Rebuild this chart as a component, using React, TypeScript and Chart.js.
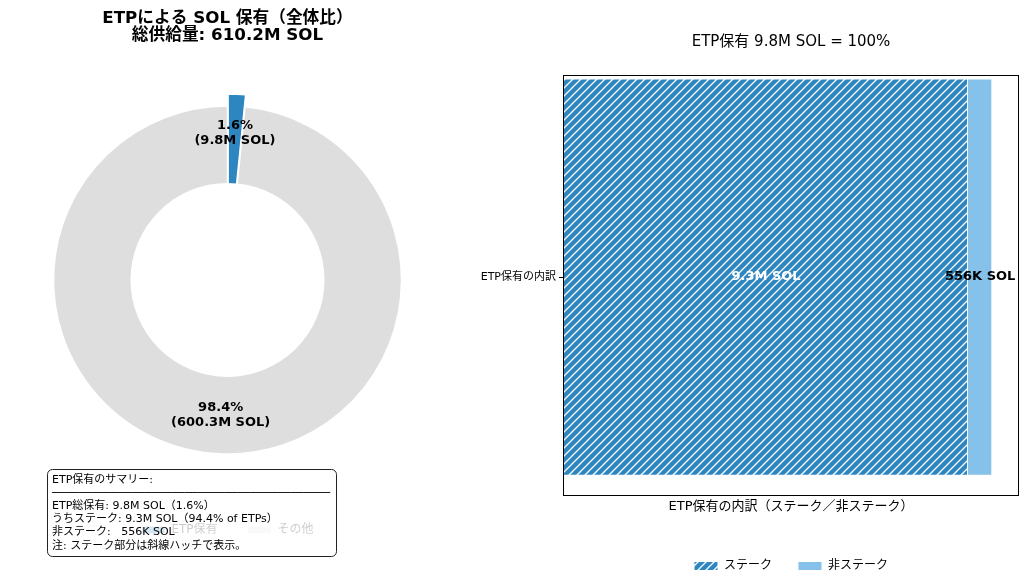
import React, { useEffect, useRef } from 'react';
import { Chart, registerables } from 'chart.js';

Chart.register(...registerables);

const FONT = '"DejaVu Sans", "Noto Sans CJK JP", sans-serif';
Chart.defaults.font.family = FONT;
Chart.defaults.color = '#000';

// ---------- data: left (donut) ----------
const donutTitle = ['ETPによる SOL 保有（全体比）', '総供給量: 610.2M SOL'];
const donutLabels = ['ETP保有', 'その他'];
const donutValues = [9.8, 600.3];
const donutTexts = [
  ['1.6%', '(9.8M SOL)'],
  ['98.4%', '(600.3M SOL)'],
];
const summaryHeader = 'ETP保有のサマリー:';
const summaryLines = [
  'ETP総保有: 9.8M SOL（1.6%）',
  'うちステーク: 9.3M SOL（94.4% of ETPs）',
  '非ステーク:   556K SOL',
  '注: ステーク部分は斜線ハッチで表示。',
];

// ---------- data: right (stacked bar) ----------
const barTitle = 'ETP保有 9.8M SOL = 100%';
const barCategories = ['ETP保有の内訳'];
const barSeries = ['ステーク', '非ステーク'];
const barValues = [9.25, 0.556];
const barTexts = ['9.3M SOL', '556K SOL'];
const barAxisTitle = 'ETP保有の内訳（ステーク／非ステーク）';

// ---------- styles ----------
const BLUE = '#2e86c1';
const LIGHT = '#85c1e9';
const GRAY = '#dedede';
const EXPLODE = 12;
const OUTER = 174;
const HOLE = 97;

function makeHatch(): CanvasPattern | string {
  const c = document.createElement('canvas');
  const s = 8;
  c.width = s;
  c.height = s;
  const g = c.getContext('2d');
  if (!g) return BLUE;
  g.fillStyle = BLUE;
  g.fillRect(0, 0, s, s);
  g.strokeStyle = '#ffffff';
  g.lineWidth = 1.3;
  g.beginPath();
  g.moveTo(-1, s + 1);
  g.lineTo(s + 1, -1);
  g.moveTo(-2, 2);
  g.lineTo(2, -2);
  g.moveTo(s - 2, s + 2);
  g.lineTo(s + 2, s - 2);
  g.stroke();
  const p = g.createPattern(c, 'repeat');
  return p || BLUE;
}

const donutPlugin = {
  id: 'donutExtras',
  afterDatasetsUpdate(chart: any) {
    const arc = chart.getDatasetMeta(0).data[0];
    if (!arc) return;
    const mid = (arc.startAngle + arc.endAngle) / 2;
    arc.x += Math.cos(mid) * EXPLODE;
    arc.y += Math.sin(mid) * EXPLODE;
  },
  afterDatasetsDraw(chart: any) {
    const ctx = chart.ctx;
    const arcs = chart.getDatasetMeta(0).data;
    const base = arcs[1];
    ctx.save();
    ctx.fillStyle = '#ffffff';
    ctx.beginPath();
    ctx.arc(base.x, base.y, HOLE, 0, Math.PI * 2);
    ctx.fill();
    ctx.font = `bold 13px ${FONT}`;
    ctx.fillStyle = '#000';
    ctx.textAlign = 'center';
    ctx.textBaseline = 'middle';
    arcs.forEach((a: any, i: number) => {
      const mid = (a.startAngle + a.endAngle) / 2;
      const r = (HOLE + a.outerRadius) / 2;
      const x = a.x + Math.cos(mid) * r;
      const y = a.y + Math.sin(mid) * r;
      const lines = donutTexts[i];
      lines.forEach((t, j) => {
        ctx.fillText(t, x, y + (j - (lines.length - 1) / 2) * 15);
      });
    });
    ctx.restore();
  },
  afterDraw(chart: any) {
    const ctx = chart.ctx;
    ctx.save();
    const bx = 47.5, by = 469.5, bw = 289, bh = 87, rr = 5;
    ctx.beginPath();
    ctx.moveTo(bx + rr, by);
    ctx.lineTo(bx + bw - rr, by);
    ctx.arcTo(bx + bw, by, bx + bw, by + rr, rr);
    ctx.lineTo(bx + bw, by + bh - rr);
    ctx.arcTo(bx + bw, by + bh, bx + bw - rr, by + bh, rr);
    ctx.lineTo(bx + rr, by + bh);
    ctx.arcTo(bx, by + bh, bx, by + bh - rr, rr);
    ctx.lineTo(bx, by + rr);
    ctx.arcTo(bx, by, bx + rr, by, rr);
    ctx.closePath();
    ctx.fillStyle = 'rgba(255,255,255,0.8)';
    ctx.fill();
    ctx.strokeStyle = '#222';
    ctx.lineWidth = 1;
    ctx.stroke();
    ctx.fillStyle = '#000';
    ctx.font = `11px ${FONT}`;
    ctx.textAlign = 'left';
    ctx.textBaseline = 'middle';
    const tx = 52;
    ctx.fillText(summaryHeader, tx, 480);
    // separator made of box-drawing characters, as wide as the box text area
    const unit = ctx.measureText('─').width || 6;
    const n = Math.max(1, Math.round((bw - 10) / unit));
    ctx.fillText('─'.repeat(n), tx, 493);
    summaryLines.forEach((t, i) => {
      ctx.fillText(t, tx, 506 + i * 13.3);
    });
    ctx.restore();
  },
};

const barPlugin = {
  id: 'barExtras',
  afterDatasetsDraw(chart: any) {
    const ctx = chart.ctx;
    const ca = chart.chartArea;
    ctx.save();
    ctx.strokeStyle = '#000';
    ctx.lineWidth = 1;
    ctx.strokeRect(Math.round(ca.left) - 0.5, Math.round(ca.top) - 0.5, Math.round(ca.right - ca.left) + 1, Math.round(ca.bottom - ca.top) + 1);
    ctx.font = `bold 13px ${FONT}`;
    ctx.textAlign = 'center';
    ctx.textBaseline = 'middle';
    chart.data.datasets.forEach((_d: any, i: number) => {
      const bar = chart.getDatasetMeta(i).data[0];
      if (!bar) return;
      const cx = (bar.x + bar.base) / 2;
      ctx.fillStyle = i === 0 ? '#ffffff' : '#000000';
      ctx.fillText(barTexts[i], cx, bar.y);
    });
    ctx.restore();
  },
};

export default function App() {
  const leftRef = useRef<HTMLCanvasElement | null>(null);
  const rightRef = useRef<HTMLCanvasElement | null>(null);

  useEffect(() => {
    if (!leftRef.current || !rightRef.current) return;
    const left = new Chart(leftRef.current, {
      type: 'pie',
      data: {
        labels: donutLabels,
        datasets: [
          {
            data: donutValues,
            backgroundColor: [BLUE, GRAY],
            borderColor: '#ffffff',
            borderWidth: 1.5,
          },
        ],
      },
      options: {
        animation: false,
        responsive: false,
        radius: OUTER,
        cutout: 0,
        layout: { padding: { bottom: 38 } },
        plugins: {
          title: {
            display: true,
            text: donutTitle,
            color: '#000',
            font: { size: 16.7, weight: 'bold', lineHeight: 1.04 },
            padding: { top: 9.8, bottom: 21.4 },
          },
          legend: {
            position: 'bottom',
            labels: {
              boxWidth: 24,
              boxHeight: 8,
              padding: 30,
              color: '#000',
              font: { size: 12 },
            },
          },
          tooltip: { enabled: false },
        },
      } as any,
      plugins: [donutPlugin],
    });

    const total = barValues.reduce((a, b) => a + b, 0);
    const hatch = makeHatch();
    const right = new Chart(rightRef.current, {
      type: 'bar',
      data: {
        datasets: barSeries.map((s, i) => ({
          label: s,
          data: [{ x: barValues[i], y: 0 }],
          backgroundColor: i === 0 ? hatch : LIGHT,
          borderColor: '#ffffff',
          borderWidth: 1,
          categoryPercentage: 1,
          barPercentage: 0.948,
        })),
      } as any,
      options: {
        indexAxis: 'y',
        animation: false,
        responsive: false,
        layout: { padding: { right: 6, bottom: 2 } },
        scales: {
          x: {
            type: 'linear',
            stacked: true,
            min: 0,
            max: total * 1.06,
            ticks: { display: false },
            grid: { display: false, drawTicks: false },
            border: { display: false },
            title: {
              display: true,
              text: barAxisTitle,
              color: '#000',
              font: { size: 13 },
              padding: { top: 4, bottom: 19.4 },
            },
          },
          y: {
            type: 'linear',
            stacked: true,
            offset: false,
            min: -0.52,
            max: 0.48,
            afterBuildTicks: (s: any) => {
              s.ticks = barCategories.map((_c, i) => ({ value: i }));
            },
            afterFit: (s: any) => {
              s.width = 104;
            },
            ticks: {
              callback: (v: any) => barCategories[Math.round(Number(v))] ?? '',
              color: '#000',
              font: { size: 11 },
              padding: 3,
            },
            grid: { drawOnChartArea: false, offset: false, tickLength: 5, color: '#000' },
            border: { display: false },
          },
        },
        plugins: {
          title: {
            display: true,
            text: barTitle,
            fullSize: false,
            color: '#000',
            font: { size: 15, weight: 'normal' },
            padding: { top: 33, bottom: 25 },
          },
          legend: {
            position: 'bottom',
            fullSize: false,
            labels: {
              boxWidth: 24,
              boxHeight: 9,
              padding: 26,
              color: '#000',
              font: { size: 12 },
            },
          },
          tooltip: { enabled: false },
        },
      } as any,
      plugins: [barPlugin],
    });

    return () => {
      left.destroy();
      right.destroy();
    };
  }, []);

  return (
    <div style={{ position: 'fixed', left: 0, top: 0, width: 1024, height: 584, background: '#fff' }}>
      <canvas ref={leftRef} width={455} height={584} style={{ position: 'absolute', left: 0, top: 0, display: 'block' }} />
      <canvas ref={rightRef} width={564} height={584} style={{ position: 'absolute', left: 460, top: 0, display: 'block' }} />
    </div>
  );
}
